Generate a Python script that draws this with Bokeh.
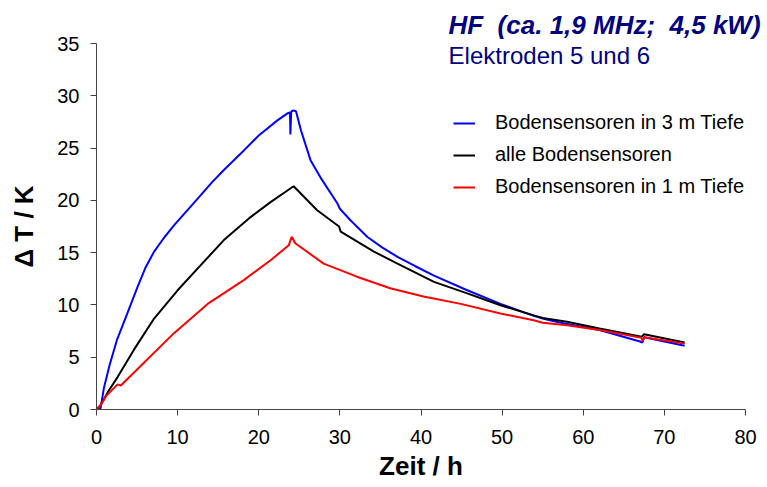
from bokeh.plotting import figure
from bokeh.models import Range1d, Label, Legend, LegendItem, FixedTicker
from bokeh.embed import file_html
from bokeh.resources import INLINE

# Data (time in h, temperature rise in K)
t_blue = [0.0, 0.5, 0.9, 1.6, 2.5, 3.8, 5.05, 6.0, 7.1, 8.3, 9.55, 11.6, 12.85, 14.2, 15.7, 18.2, 20.0, 22.3, 23.5, 23.85,
          23.9, 24.0, 24.3, 24.6, 25.2, 26.4, 27.6, 29.7, 30.0, 31.3, 33.4, 35.2, 37.1, 39.3, 41.6, 45.7, 49.8, 53.9,
          55.0, 57.2, 62.0, 67.0, 67.3, 67.5, 72.5]
T_blue = [0.0, 0.1, 2.0, 4.2, 6.6, 9.2, 11.7, 13.5, 15.1, 16.4, 17.6, 19.4, 20.5, 21.7, 22.9, 24.8, 26.2, 27.65, 28.3, 28.4,
          26.3, 28.5, 28.6, 28.5, 26.7, 23.8, 22.2, 19.7, 19.2, 18.1, 16.5, 15.5, 14.6, 13.7, 12.8, 11.4, 10.1, 8.95,
          8.7, 8.3, 7.6, 6.5, 6.4, 6.9, 6.1]

t_black = [0.0, 0.5, 1.5, 2.6, 4.6, 7.1, 10.0, 12.85, 15.7, 19.0, 21.5, 24.3, 27.2, 29.9, 30.1, 34.2, 37.1, 41.6,
           45.7, 49.8, 53.9, 55.0, 58.0, 62.0, 67.2, 67.5, 72.5]
T_black = [0.0, 0.4, 1.8, 3.1, 5.7, 8.7, 11.4, 13.8, 16.2, 18.4, 19.85, 21.35, 19.05, 17.5, 17.0, 15.1, 13.95, 12.2,
           11.1, 9.97, 9.0, 8.75, 8.4, 7.75, 6.95, 7.2, 6.4]

t_red = [0.0, 0.5, 1.2, 2.6, 3.0, 5.5, 9.55, 13.7, 18.2, 21.5, 23.7, 24.0, 24.1, 24.5, 28.0, 32.1, 36.2, 40.3, 44.9,
         49.8, 53.9, 55.0, 58.0, 62.0, 67.2, 67.3, 67.5, 72.5]
T_red = [0.0, 0.4, 1.3, 2.4, 2.3, 4.2, 7.3, 10.1, 12.4, 14.3, 15.7, 16.4, 16.5, 15.9, 13.95, 12.7, 11.6, 10.8, 10.1,
         9.18, 8.54, 8.3, 8.06, 7.6, 6.85, 6.5, 6.9, 6.3]

series_labels = ["Bodensensoren in 3 m Tiefe", "alle Bodensensoren", "Bodensensoren in 1 m Tiefe"]
title_text = "HF\u00a0 (ca. 1,9 MHz;\u00a0 4,5 kW)"
subtitle_text = "Elektroden 5 und 6"
x_ticks = [0, 10, 20, 30, 40, 50, 60, 70, 80]
y_ticks = [0, 5, 10, 15, 20, 25, 30, 35]

FONT = "Liberation Sans"

p = figure(width=767, height=486, output_backend="svg", toolbar_location=None,
           x_range=Range1d(0, 80), y_range=Range1d(0, 35))
p.min_border_left = 96
p.min_border_right = 22
p.min_border_top = 43
p.min_border_bottom = 77
p.outline_line_color = None
p.xgrid.visible = False
p.ygrid.visible = False
p.background_fill_color = "white"
p.border_fill_color = "white"

r_blue = p.line(t_blue, T_blue, line_color="#0000ff", line_width=2)
r_black = p.line(t_black, T_black, line_color="#000000", line_width=2)
r_red = p.line(t_red, T_red, line_color="#ff0000", line_width=2)

for ax in (p.xaxis[0], p.yaxis[0]):
    ax.axis_line_color = "#444444"
    ax.major_tick_line_color = "#444444"
    ax.minor_tick_line_color = None
    ax.major_tick_out = 6
    ax.major_tick_in = 0
    ax.major_label_text_font = FONT
    ax.major_label_text_font_size = "20px"
    ax.major_label_text_color = "black"
    ax.axis_label_text_font = FONT
    ax.axis_label_text_font_size = "26px"
    ax.axis_label_text_font_style = "bold"
    ax.axis_label_text_color = "black"

p.xaxis.ticker = FixedTicker(ticks=x_ticks)
p.yaxis.ticker = FixedTicker(ticks=y_ticks)
p.xaxis.axis_label = "Zeit / h"
p.yaxis.axis_label = "\u0394 T / K"
p.xaxis.major_label_standoff = 14
p.xaxis.axis_label_standoff = 4
p.yaxis.major_label_standoff = 11
p.yaxis.axis_label_standoff = 15

legend = Legend(items=[LegendItem(label=series_labels[0], renderers=[r_blue]),
                       LegendItem(label=series_labels[1], renderers=[r_black]),
                       LegendItem(label=series_labels[2], renderers=[r_red])],
                location=(357, 210.5))
legend.padding = 0
legend.margin = 0
legend.border_line_alpha = 0
legend.background_fill_alpha = 0
legend.glyph_width = 22
legend.glyph_height = 24
legend.label_height = 24
legend.spacing = 8
legend.label_standoff = 20
legend.label_text_font = FONT
legend.label_text_font_size = "20px"
legend.label_text_color = "black"
p.add_layout(legend, "center")

p.title.text = title_text
p.title.align = "left"
p.title.offset = 352
p.title.standoff = 7
p.title.text_font = FONT
p.title.text_font_size = "26px"
p.title.text_font_style = "bold italic"
p.title.text_color = "#000080"

subtitle = Label(x=43.4, y=33.9, text=subtitle_text, text_font=FONT, text_font_size="24px",
                 text_color="#000080", text_baseline="alphabetic")
p.add_layout(subtitle)

open("out.html", "w").write(file_html(p, INLINE))
